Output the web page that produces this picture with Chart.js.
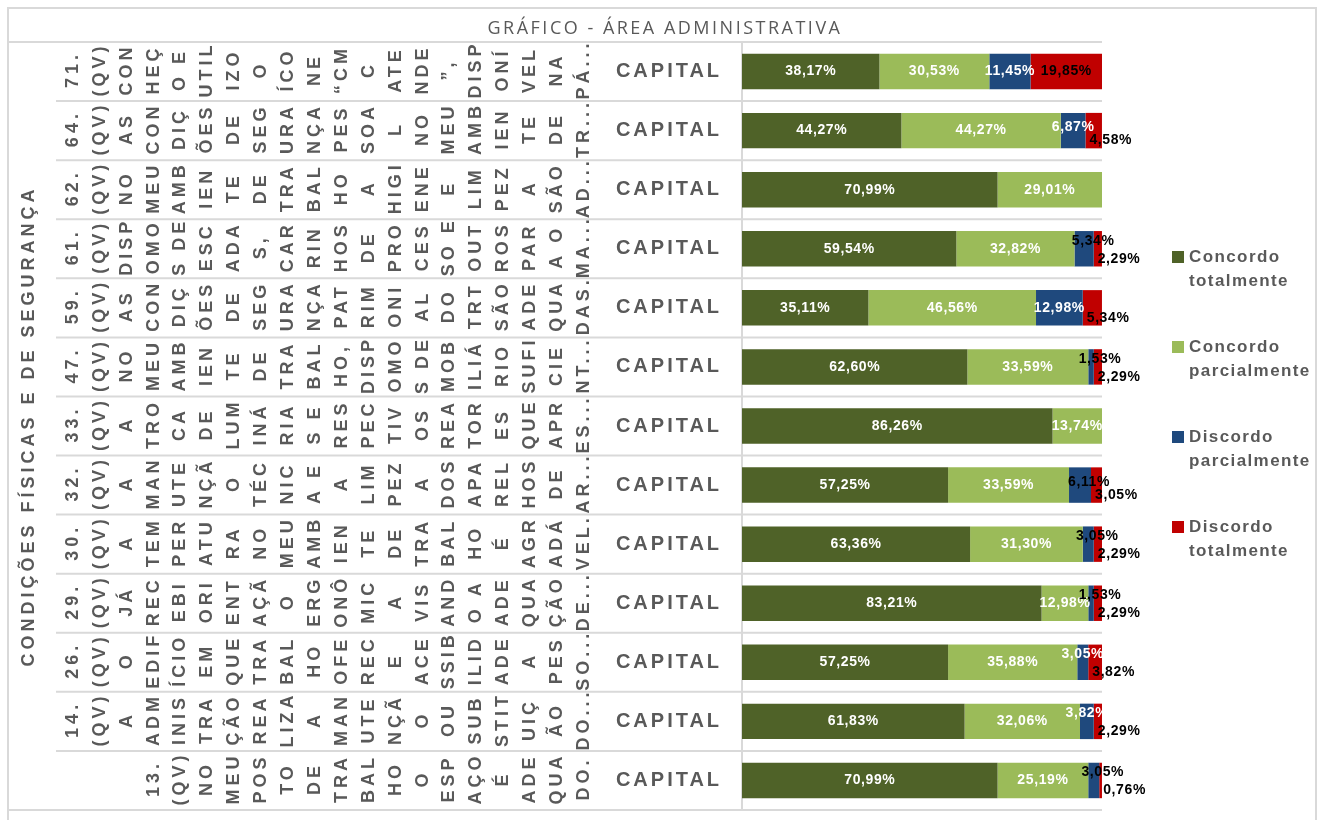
<!DOCTYPE html>
<html>
<head>
<meta charset="utf-8">
<script src="https://cdn.jsdelivr.net/npm/chart.js@4.4.1/dist/chart.umd.min.js"></script>
<style>
  body { margin: 0; background: #fff; }
  #caixa { width: 1324px; height: 820px; position: relative; }
</style>
</head>
<body>
<div id="caixa"><canvas id="grafico-area-adm"></canvas></div>
<script>
// textos
const titulo = 'GRÁFICO - ÁREA ADMINISTRATIVA';
const grupo = 'CONDIÇÕES FÍSICAS E DE SEGURANÇA';
const localidade = 'CAPITAL';

// perguntas (já quebradas como aparecem no eixo)
const perguntas = [
  ['71.', '(QV)', 'CON', 'HEÇ', 'O E', 'UTIL', 'IZO', 'O', 'ÍCO', 'NE', '“CM', 'C', 'ATE', 'NDE', '”,', 'DISP', 'ONÍ', 'VEL', 'NA', 'PÁ...'],
  ['64.', '(QV)', 'AS', 'CON', 'DIÇ', 'ÕES', 'DE', 'SEG', 'URA', 'NÇA', 'PES', 'SOA', 'L', 'NO', 'MEU', 'AMB', 'IEN', 'TE', 'DE', 'TR...'],
  ['62.', '(QV)', 'NO', 'MEU', 'AMB', 'IEN', 'TE', 'DE', 'TRA', 'BAL', 'HO', 'A', 'HIGI', 'ENE', 'E', 'LIM', 'PEZ', 'A', 'SÃO', 'AD...'],
  ['61.', '(QV)', 'DISP', 'OMO', 'S DE', 'ESC', 'ADA', 'S,', 'CAR', 'RIN', 'HOS', 'DE', 'PRO', 'CES', 'SO E', 'OUT', 'ROS', 'PAR', 'A O', 'MA...'],
  ['59.', '(QV)', 'AS', 'CON', 'DIÇ', 'ÕES', 'DE', 'SEG', 'URA', 'NÇA', 'PAT', 'RIM', 'ONI', 'AL', 'DO', 'TRT', 'SÃO', 'ADE', 'QUA', 'DAS.'],
  ['47.', '(QV)', 'NO', 'MEU', 'AMB', 'IEN', 'TE', 'DE', 'TRA', 'BAL', 'HO,', 'DISP', 'OMO', 'S DE', 'MOB', 'ILIÁ', 'RIO', 'SUFI', 'CIE', 'NT...'],
  ['33.', '(QV)', 'A', 'TRO', 'CA', 'DE', 'LUM', 'INÁ', 'RIA', 'S E', 'RES', 'PEC', 'TIV', 'OS', 'REA', 'TOR', 'ES', 'QUE', 'APR', 'ES...'],
  ['32.', '(QV)', 'A', 'MAN', 'UTE', 'NÇÃ', 'O', 'TÉC', 'NIC', 'A E', 'A', 'LIM', 'PEZ', 'A', 'DOS', 'APA', 'REL', 'HOS', 'DE', 'AR...'],
  ['30.', '(QV)', 'A', 'TEM', 'PER', 'ATU', 'RA', 'NO', 'MEU', 'AMB', 'IEN', 'TE', 'DE', 'TRA', 'BAL', 'HO', 'É', 'AGR', 'ADÁ', 'VEL.'],
  ['29.', '(QV)', 'JÁ', 'REC', 'EBI', 'ORI', 'ENT', 'AÇÃ', 'O', 'ERG', 'ONÔ', 'MIC', 'A', 'VIS', 'AND', 'O A', 'ADE', 'QUA', 'ÇÃO', 'DE...'],
  ['26.', '(QV)', 'O', 'EDIF', 'ÍCIO', 'EM', 'QUE', 'TRA', 'BAL', 'HO', 'OFE', 'REC', 'E', 'ACE', 'SSIB', 'ILID', 'ADE', 'A', 'PES', 'SO...'],
  ['14.', '(QV)', 'A', 'ADM', 'INIS', 'TRA', 'ÇÃO', 'REA', 'LIZA', 'A', 'MAN', 'UTE', 'NÇÃ', 'O', 'OU', 'SUB', 'STIT', 'UIÇ', 'ÃO', 'DO...'],
  ['13.', '(QV)', 'NO', 'MEU', 'POS', 'TO', 'DE', 'TRA', 'BAL', 'HO', 'O', 'ESP', 'AÇO', 'É', 'ADE', 'QUA', 'DO.']
];

// séries (%)
const series = ['Concordo totalmente', 'Concordo parcialmente', 'Discordo parcialmente', 'Discordo totalmente'];
const concordoTotal = [38.17, 44.27, 70.99, 59.54, 35.11, 62.60, 86.26, 57.25, 63.36, 83.21, 57.25, 61.83, 70.99];
const concordoParcial = [30.53, 44.27, 29.01, 32.82, 46.56, 33.59, 13.74, 33.59, 31.30, 12.98, 35.88, 32.06, 25.19];
const discordoParcial = [11.45, 6.87, 0, 5.34, 12.98, 1.53, 0, 6.11, 3.05, 1.53, 3.05, 3.82, 3.05];
const discordoTotal = [19.85, 4.58, 0, 2.29, 5.34, 2.29, 0, 3.05, 2.29, 2.29, 3.82, 2.29, 0.76];

const cores = ['#4F6228', '#9BBB59', '#1F497D', '#C00000'];
// cor do rótulo da série "Discordo parcialmente" em cada linha
const corRotuloDiscParc = ['#FFFFFF', '#FFFFFF', '#FFFFFF', '#000000', '#FFFFFF', '#000000', '#FFFFFF',
                           '#000000', '#000000', '#000000', '#FFFFFF', '#FFFFFF', '#000000'];

const CINZA = '#595959';
const LINHA = '#D9D9D9';

function fmt(v) {
  return v.toFixed(2).replace('.', ',') + '%';
}

const tabela = {
  id: 'tabela',
  beforeDraw(chart) {
    const ctx = chart.ctx;
    const area = chart.chartArea;
    const yScale = chart.scales.y;
    const n = chart.data.labels.length;
    const faixa = (area.bottom - area.top) / n;
    ctx.save();
    ctx.fillStyle = '#FFFFFF';
    ctx.fillRect(0, 0, chart.width, chart.height);

    // moldura
    ctx.strokeStyle = LINHA;
    ctx.lineWidth = 2;
    ctx.strokeRect(8, 8, 1308, 840);

    // título
    ctx.fillStyle = CINZA;
    ctx.font = '18px "Open Sans"';
    ctx.letterSpacing = '2.5px';
    ctx.textAlign = 'center';
    ctx.textBaseline = 'middle';
    ctx.fillText(titulo, 665, 29);

    // linhas da tabela
    ctx.beginPath();
    ctx.moveTo(8, area.top); ctx.lineTo(area.right, area.top);
    ctx.moveTo(8, area.bottom); ctx.lineTo(area.right, area.bottom);
    for (let i = 1; i < n; i++) {
      const yy = area.top + i * faixa;
      ctx.moveTo(56, yy); ctx.lineTo(area.right, yy);
    }
    ctx.moveTo(area.left, area.top); ctx.lineTo(area.left, area.bottom);
    ctx.stroke();

    // grupo (vertical)
    ctx.save();
    ctx.translate(29, (area.top + area.bottom) / 2);
    ctx.rotate(-Math.PI / 2);
    ctx.font = 'bold 18px "Liberation Sans"';
    ctx.letterSpacing = '4px';
    ctx.fillText(grupo, 0, 0);
    ctx.restore();

    // perguntas e localidade
    chart.data.labels.forEach((linhas, i) => {
      const yc = yScale.getPixelForValue(i);
      ctx.font = 'bold 18px "Liberation Sans"';
      ctx.letterSpacing = '4px';
      linhas.forEach((t, j) => {
        const x = 584 - (linhas.length - 1 - j) * 26.9;
        ctx.save();
        ctx.translate(x, yc);
        ctx.rotate(-Math.PI / 2);
        ctx.fillText(t, 2, 0);
        ctx.restore();
      });
      ctx.font = 'bold 20px "Liberation Sans"';
      ctx.letterSpacing = '3px';
      ctx.fillText(localidade, 669, yc);
    });
    ctx.restore();
  },
  afterDatasetsDraw(chart) {
    const ctx = chart.ctx;
    ctx.save();
    ctx.font = 'bold 14px "Liberation Sans"';
    ctx.letterSpacing = '0.6px';
    ctx.textBaseline = 'middle';
    chart.data.datasets.forEach((ds, d) => {
      const meta = chart.getDatasetMeta(d);
      meta.data.forEach((bar, i) => {
        const v = ds.data[i];
        if (!v) return;
        const ini = bar.base;
        const fim = bar.x;
        let x = (ini + fim) / 2;
        let y = bar.y;
        let cor = '#FFFFFF';
        let alinh = 'center';
        if (d === 2 && v < 10) {
          cor = corRotuloDiscParc[i];
          y -= v > 6 ? 3 : 8;
          if (cor === '#000000') x += 9;
        }
        if (d === 3) {
          cor = '#000000';
          if (v < 10) {
            x = ini + 4;
            y += 10;
            alinh = 'left';
          }
        }
        ctx.fillStyle = cor;
        ctx.textAlign = alinh;
        ctx.fillText(fmt(v), x, y);
      });
    });
    ctx.restore();
  },
  afterDraw(chart) {
    const ctx = chart.ctx;
    ctx.save();
    ctx.font = 'bold 17px "Liberation Sans"';
    ctx.letterSpacing = '1.4px';
    ctx.textAlign = 'left';
    ctx.textBaseline = 'middle';
    chart.data.datasets.forEach((ds, d) => {
      const topo = 257 + d * 90;
      ctx.fillStyle = ds.backgroundColor;
      ctx.fillRect(1172, topo - 6, 12, 12);
      ctx.fillStyle = CINZA;
      ds.label.split(' ').forEach((p, k) => {
        ctx.fillText(p, 1189, topo + k * 24);
      });
    });
    ctx.restore();
  }
};

new Chart(document.getElementById('grafico-area-adm'), {
  type: 'bar',
  data: {
    labels: perguntas,
    datasets: [concordoTotal, concordoParcial, discordoParcial, discordoTotal].map((valores, k) => ({
      label: series[k],
      data: valores,
      backgroundColor: cores[k],
      borderWidth: 0,
      barPercentage: 0.6,
      categoryPercentage: 1
    }))
  },
  options: {
    indexAxis: 'y',
    responsive: true,
    maintainAspectRatio: false,
    animation: false,
    layout: { padding: { left: 742, right: 222, top: 42, bottom: 10 } },
    scales: {
      x: { stacked: true, min: 0, max: 100, display: false },
      y: { stacked: true, display: false }
    },
    plugins: {
      legend: { display: false },
      title: { display: false },
      tooltip: { enabled: false }
    }
  },
  plugins: [tabela]
});
</script>
</body>
</html>
